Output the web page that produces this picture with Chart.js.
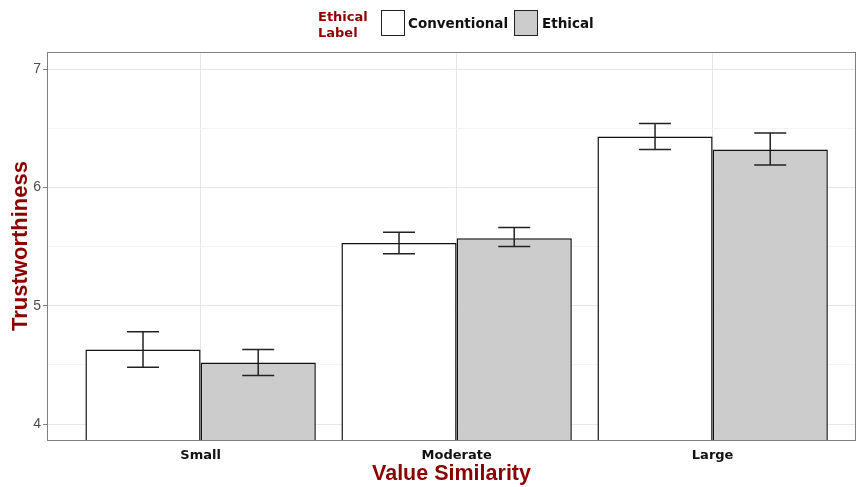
<!DOCTYPE html>
<html>
<head>
<meta charset="utf-8">
<script src="https://cdn.jsdelivr.net/npm/chart.js@4.4.0/dist/chart.umd.min.js"></script>
<style>
  body { margin: 0; background: #fff; }
  #wrap { position: relative; width: 856px; height: 487px; font-family: "DejaVu Sans", sans-serif; }
  .lg { position: absolute; font-weight: bold; }
  .box { position: absolute; width: 22px; height: 24px; border: 1px solid #222; }
</style>
</head>
<body>
<div id="wrap">
  <canvas id="chart" width="856" height="487"></canvas>
  <div class="lg" style="left:318px;top:9px;color:#8b0000;font-size:13px;line-height:16px;">Ethical<br>Label</div>
  <div class="box" style="left:381px;top:10px;background:#fff;"></div>
  <div class="lg" style="left:408px;top:15px;font-size:13.5px;color:#111;">Conventional</div>
  <div class="box" style="left:514px;top:10px;background:#cccccc;"></div>
  <div class="lg" style="left:542px;top:15px;font-size:13.5px;color:#111;">Ethical</div>
</div>
<script>
// dados
const categories = ["Small", "Moderate", "Large"];
const conventional = [4.63, 5.53, 6.43];
const ethical = [4.52, 5.57, 6.32];
const convLow = [4.48, 5.44, 6.32];
const convHigh = [4.78, 5.62, 6.54];
const ethLow = [4.41, 5.50, 6.19];
const ethHigh = [4.63, 5.66, 6.46];
const yTicks = [4, 4.5, 5, 5.5, 6, 6.5, 7];

const toPoints = (arr) => arr.map((v, i) => ({ x: i + 1, y: v }));

// barras de erro e borda do painel
const errorBars = {
  id: "errorBars",
  afterDatasetsDraw(chart) {
    const c = chart.ctx;
    const y = chart.scales.y;
    const lows = [convLow, ethLow];
    const highs = [convHigh, ethHigh];
    c.save();
    c.strokeStyle = "#222";
    c.lineWidth = 1.5;
    [0, 1].forEach((d) => {
      chart.getDatasetMeta(d).data.forEach((bar, i) => {
        const x = bar.x;
        const yl = y.getPixelForValue(lows[d][i]);
        const yh = y.getPixelForValue(highs[d][i]);
        c.beginPath();
        c.moveTo(x, yl); c.lineTo(x, yh);
        c.moveTo(x - 16, yl); c.lineTo(x + 16, yl);
        c.moveTo(x - 16, yh); c.lineTo(x + 16, yh);
        c.stroke();
      });
    });
    const a = chart.chartArea;
    c.strokeStyle = "#7f7f7f";
    c.lineWidth = 1;
    c.strokeRect(a.left + 0.5, a.top + 0.5, a.right - a.left - 1, a.bottom - a.top);
    c.restore();
  }
};

new Chart(document.getElementById("chart"), {
  type: "bar",
  data: {
    datasets: [
      {
        label: "Conventional",
        data: toPoints(conventional),
        backgroundColor: "#ffffff",
        borderColor: "#111",
        borderWidth: 1.5,
      },
      {
        label: "Ethical",
        data: toPoints(ethical),
        backgroundColor: "#cccccc",
        borderColor: "#111",
        borderWidth: 1.5,
      },
    ],
  },
  options: {
    responsive: false,
    animation: false,
    categoryPercentage: 0.9,
    barPercentage: 1,
    layout: { padding: { top: 52, right: 0 } },
    plugins: { legend: { display: false }, tooltip: { enabled: false } },
    scales: {
      x: {
        type: "linear",
        min: 0.4,
        max: 3.56,
        offset: false,
        afterBuildTicks: (s) => { s.ticks = [1, 2, 3].map((v) => ({ value: v })); },
        afterFit: (s) => { s.height = 47; },
        ticks: {
          callback: (v) => categories[v - 1],
          color: "#111",
          font: { family: "DejaVu Sans", size: 13, weight: "bold" },
          padding: 8,
          maxRotation: 0,
        },
        grid: { color: "#e6e6e6", offset: false, drawTicks: false },
        border: { display: false },
        title: {
          display: true,
          text: "Value Similarity",
          color: "#8b0000",
          font: { family: "Liberation Sans", size: 21.5, weight: "bold" },
          padding: { top: 0, bottom: 0 },
        },
      },
      y: {
        min: 3.865,
        max: 7.144,
        afterBuildTicks: (s) => { s.ticks = yTicks.map((v) => ({ value: v })); },
        afterFit: (s) => { s.width = 47; },
        ticks: {
          callback: (v) => (Number.isInteger(v) ? v : ""),
          color: "#4d4d4d",
          font: { family: "Liberation Sans", size: 14 },
          padding: 2,
        },
        grid: {
          color: (ctx) => (Number.isInteger(ctx.tick.value) ? "#e6e6e6" : "#f4f4f4"),
          tickColor: (ctx) => (Number.isInteger(ctx.tick.value) ? "#7f7f7f" : "rgba(0,0,0,0)"),
          tickLength: 4,
        },
        border: { display: false },
        title: {
          display: true,
          text: "Trustworthiness",
          color: "#8b0000",
          font: { family: "Liberation Sans", size: 22, weight: "bold" },
          padding: { top: 8, bottom: 0 },
        },
      },
    },
  },
  plugins: [errorBars],
});
</script>
</body>
</html>
